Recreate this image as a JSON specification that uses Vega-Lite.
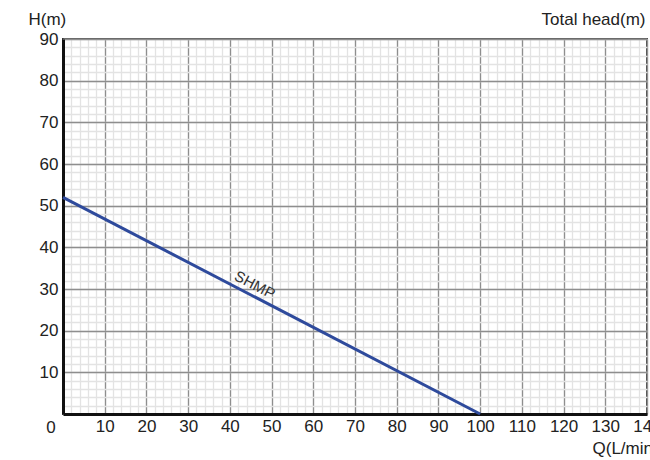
{
  "$schema": "https://vega.github.io/schema/vega-lite/v6.json",
  "width": 584,
  "height": 375,
  "autosize": {"type": "none"},
  "padding": {"left": 63, "top": 39, "right": 3, "bottom": 46},
  "background": "white",
  "config": {
    "view": {"stroke": "#333", "strokeWidth": 2},
    "font": "Liberation Sans",
    "axis": {"labelFont": "Liberation Sans", "titleFont": "Liberation Sans"}
  },
  "data": {"values": [{"Q": 0, "H": 52}, {"Q": 100, "H": 0}]},
  "layer": [
    {
      "mark": {"type": "line", "strokeOpacity": 0},
      "encoding": {
        "x": {"field": "Q", "type": "quantitative", "scale": {"domain": [0, 140], "nice": false},
          "axis": {"orient": "bottom", "values": [0,2,4,6,8,10,12,14,16,18,20,22,24,26,28,30,32,34,36,38,40,42,44,46,48,50,52,54,56,58,60,62,64,66,68,70,72,74,76,78,80,82,84,86,88,90,92,94,96,98,100,102,104,106,108,110,112,114,116,118,120,122,124,126,128,130,132,134,136,138,140],
            "grid": true, "gridColor": "#e3e3e3", "gridWidth": 1.3, "labels": false, "ticks": false, "domain": false, "title": null}},
        "y": {"field": "H", "type": "quantitative", "scale": {"domain": [0, 90], "nice": false},
          "axis": {"orient": "right", "values": [0,2,4,6,8,10,12,14,16,18,20,22,24,26,28,30,32,34,36,38,40,42,44,46,48,50,52,54,56,58,60,62,64,66,68,70,72,74,76,78,80,82,84,86,88,90],
            "grid": true, "gridColor": "#e3e3e3", "gridWidth": 1.3, "labels": false, "ticks": false, "domain": false,
            "title": "Total head(m)", "titleFontSize": 17, "titleFontWeight": "normal", "titleColor": "#222", "titleAngle": 0, "titleAlign": "right", "titleBaseline": "alphabetic", "titleX": -2, "titleY": -15}}
      }
    },
    {
      "mark": {"type": "line", "color": "#2e4a9c", "strokeWidth": 3},
      "encoding": {
        "x": {"field": "Q", "type": "quantitative",
          "axis": {"orient": "bottom", "values": [0,10,20,30,40,50,60,70,80,90,100,110,120,130,140],
            "grid": true, "gridColor": "#8e8e8e", "gridWidth": 1.3, "ticks": false, "domain": true, "domainColor": "#111", "domainWidth": 3,
            "labelOverlap": false, "labelBound": false, "labelFlush": false,
            "labelExpr": "datum.value == 0 ? '' : datum.label", "labelFontSize": 17, "labelColor": "#222", "labelPadding": 4,
            "title": "Q(L/min)", "titleFontSize": 17, "titleFontWeight": "normal", "titleColor": "#222", "titleAlign": "left", "titleBaseline": "alphabetic", "titleX": 529, "titleY": 39}},
        "y": {"field": "H", "type": "quantitative",
          "axis": {"orient": "left", "values": [0,10,20,30,40,50,60,70,80,90],
            "grid": true, "gridColor": "#8e8e8e", "gridWidth": 1.3, "ticks": false, "domain": true, "domainColor": "#111", "domainWidth": 3,
            "labelOverlap": false, "labelFlush": false,
            "labelExpr": "datum.value == 0 ? '' : datum.label", "labelFontSize": 17, "labelColor": "#222", "labelPadding": 5,
            "title": "H(m)", "titleFontSize": 17, "titleFontWeight": "normal", "titleColor": "#222", "titleAngle": 0, "titleAlign": "left", "titleBaseline": "alphabetic", "titleX": -35, "titleY": -15}}
      }
    },
    {
      "data": {"values": [{"Q": 46, "H": 31, "label": "SHMP"}]},
      "mark": {"type": "text", "angle": 27.5, "fontSize": 15, "color": "#333", "align": "center", "baseline": "middle"},
      "encoding": {
        "x": {"field": "Q", "type": "quantitative", "axis": null},
        "y": {"field": "H", "type": "quantitative", "axis": null},
        "text": {"field": "label"}
      }
    },
    {
      "data": {"values": [{"Q": 0, "H": 0, "label": "0"}]},
      "mark": {"type": "text", "fontSize": 17, "color": "#222", "align": "center", "baseline": "middle", "dx": -12, "dy": 14},
      "encoding": {
        "x": {"field": "Q", "type": "quantitative", "axis": null},
        "y": {"field": "H", "type": "quantitative", "axis": null},
        "text": {"field": "label"}
      }
    }
  ],
  "resolve": {"axis": {"x": "independent", "y": "independent"}}
}
